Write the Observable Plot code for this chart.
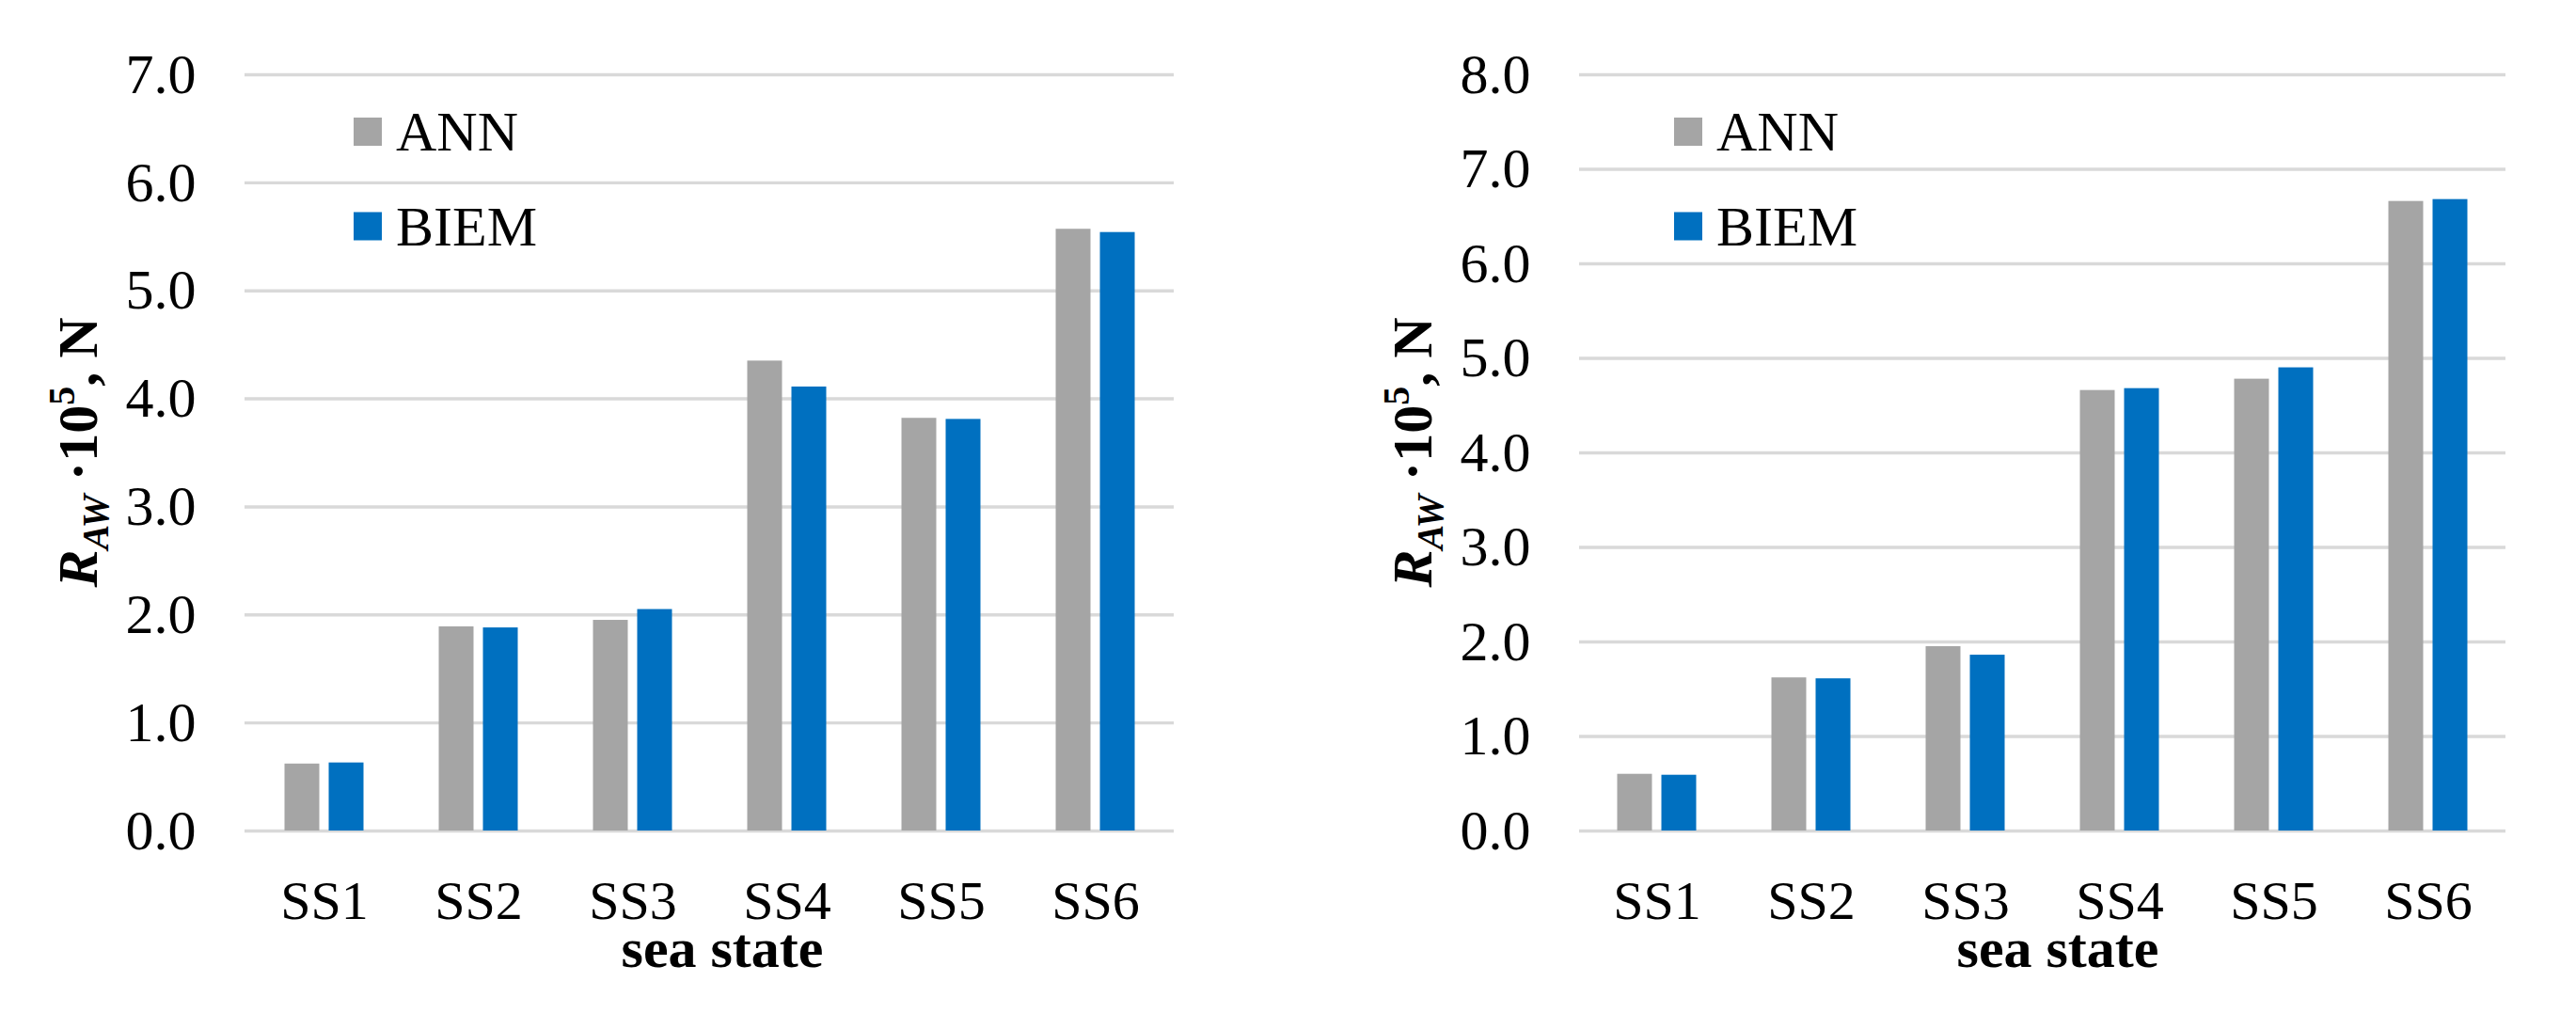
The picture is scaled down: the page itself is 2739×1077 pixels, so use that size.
<!DOCTYPE html>
<html>
<head>
<meta charset="utf-8">
<script src="https://cdn.jsdelivr.net/npm/d3@7"></script>
<script src="https://cdn.jsdelivr.net/npm/@observablehq/plot@0.6"></script>
<style>
  html, body { margin: 0; padding: 0; background: #fff; }
  #wrap { display: flex; width: 2739px; height: 1077px; }
  svg { display: block; }
</style>
</head>
<body>
<div id="wrap"></div>
<script>
// ---- data ----
const categories = ["SS1", "SS2", "SS3", "SS4", "SS5", "SS6"];
const series = ["ANN", "BIEM"];
const colors = ["#A5A5A5", "#0070C0"];

const leftANN  = [0.62, 1.89, 1.95, 4.35, 3.82, 5.57];
const leftBIEM = [0.63, 1.88, 2.05, 4.11, 3.81, 5.54];
const leftTicks = [0, 1, 2, 3, 4, 5, 6, 7];

const rightANN  = [0.60, 1.62, 1.95, 4.66, 4.78, 6.66];
const rightBIEM = [0.59, 1.61, 1.86, 4.68, 4.90, 6.68];
const rightTicks = [0, 1, 2, 3, 4, 5, 6, 7, 8];

const xTitle = "sea state";

function makeChart({ann, biem, ticks, width, marginLeft, marginRight, yLabelX, xTitleX, legendX}) {
  const rows = categories.flatMap((c, i) => [
    {cat: c, series: series[0], value: ann[i]},
    {cat: c, series: series[1], value: biem[i]}
  ]);
  const svg = Plot.plot({
    width,
    height: 1077,
    marginTop: 79,
    marginBottom: 194,
    marginLeft,
    marginRight,
    style: {fontFamily: "'Liberation Serif', 'Times New Roman', serif", fontSize: "60px", color: "#000", background: "transparent", overflow: "visible"},
    x: {domain: categories, paddingInner: 0.775, paddingOuter: 0.3875, label: null},
    y: {domain: [ticks[0], ticks[ticks.length - 1]], label: null},
    marks: [
      Plot.ruleY(ticks, {stroke: "#D9D9D9", strokeWidth: 3.4}),
      Plot.barY(rows.filter(d => d.series === series[0]), {x: "cat", y: "value", fill: colors[0], dx: -23.5}),
      Plot.barY(rows.filter(d => d.series === series[1]), {x: "cat", y: "value", fill: colors[1], dx: 23.5}),
      Plot.axisX({tickSize: 0, tickPadding: 52, fontSize: 58, label: null}),
      Plot.axisY(ticks, {tickSize: 0, tickPadding: 52, tickFormat: d3.format(".1f"), label: null})
    ]
  });

  const s = d3.select(svg);
  const ff = "'Liberation Serif', 'Times New Roman', serif";

  // y-axis title (rotated, with sub/superscripts)
  const t = s.append("text")
    .attr("transform", `translate(${yLabelX},481) rotate(-90)`)
    .attr("text-anchor", "middle")
    .attr("font-family", ff)
    .attr("font-size", 60)
    .attr("font-weight", "bold")
    .attr("fill", "#000");
  t.append("tspan").attr("font-style", "italic").text("R");
  t.append("tspan").attr("font-style", "italic").attr("font-size", 40).attr("dy", 12).text("AW");
  t.append("tspan").attr("dy", -12).text(" \u00B710");
  t.append("tspan").attr("font-size", 40).attr("dy", -24).text("5");
  t.append("tspan").attr("dy", 24).text(", N");

  // x-axis title
  s.append("text")
    .attr("x", xTitleX).attr("y", 1028)
    .attr("text-anchor", "middle")
    .attr("font-family", ff)
    .attr("font-size", 60)
    .attr("font-weight", "bold")
    .attr("fill", "#000")
    .text(xTitle);

  // legend
  const lg = s.append("g").attr("text-anchor", "start");
  series.forEach((name, i) => {
    lg.append("rect")
      .attr("x", legendX).attr("y", 125 + i * 100.5)
      .attr("width", 30).attr("height", 30)
      .attr("fill", colors[i]);
    lg.append("text")
      .attr("x", legendX + 45).attr("y", 160 + i * 100.5)
      .attr("text-anchor", "start")
      .attr("font-family", ff)
      .attr("font-size", 60)
      .attr("fill", "#000")
      .text(name);
  });
  return svg;
}

const wrap = document.getElementById("wrap");
wrap.appendChild(makeChart({
  ann: leftANN, biem: leftBIEM, ticks: leftTicks,
  width: 1370, marginLeft: 260, marginRight: 122,
  yLabelX: 103, xTitleX: 768, legendX: 376
}));
wrap.appendChild(makeChart({
  ann: rightANN, biem: rightBIEM, ticks: rightTicks,
  width: 1369, marginLeft: 309, marginRight: 75,
  yLabelX: 152, xTitleX: 818, legendX: 410
}));
</script>
</body>
</html>
